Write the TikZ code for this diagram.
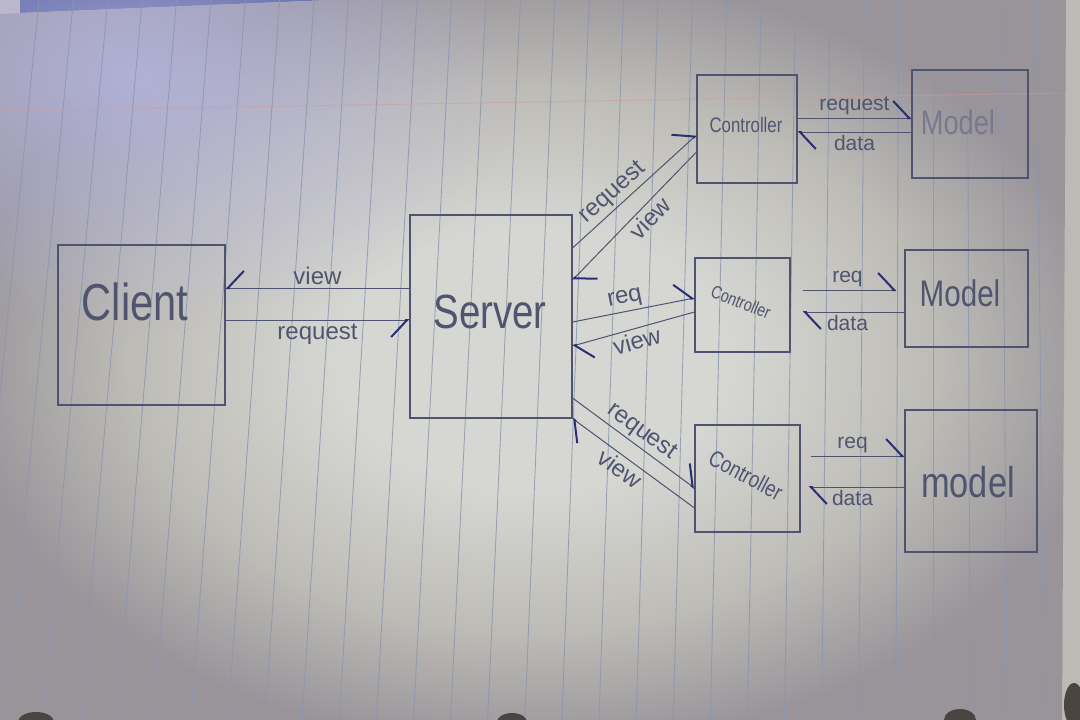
\documentclass[tikz,border=0pt]{standalone}
\usepackage{fontspec}
\setmainfont{Liberation Sans}
\newfontfamily\handbig{Liberation Sans}[FakeStretch=0.8]
\usetikzlibrary{arrows.meta,fadings}

\definecolor{paperhi}{HTML}{D6D7D3}
\definecolor{papermid}{HTML}{BDBBB6}
\definecolor{paperlo}{HTML}{98949A}
\definecolor{lavender}{HTML}{B7B8E6}
\definecolor{ruling}{HTML}{8A96AE}
\definecolor{marginred}{HTML}{CF9C9A}
\definecolor{pencil}{HTML}{4E536F}
\definecolor{inkdark}{HTML}{2C2D72}
\definecolor{scrawl}{HTML}{50556F}
\definecolor{faded}{HTML}{767A8C}
\definecolor{desk}{HTML}{3F4C8C}
\definecolor{edgegrey}{HTML}{BDB9B4}
\definecolor{ringgrey}{HTML}{4A4541}

% soft light falling on the sheet
\pgfdeclareradialshading{sheetlight}{\pgfpoint{0bp}{0bp}}{%
  color(0bp)=(paperhi); color(9bp)=(paperhi); color(19bp)=(papermid);
  color(27bp)=(paperlo); color(50bp)=(paperlo)}
\tikzfading[name=glow, inner color=transparent!0, outer color=transparent!100]

\begin{document}
\begin{tikzpicture}[x=1pt, y=-1pt,
  box/.style={draw=pencil, line width=1.1pt, inner sep=0pt},
  link/.style={draw=pencil, line width=1pt},
  tipL/.style={-{Straight Barb[harpoon, length=16pt, width=34pt, line width=2pt, color=inkdark]}},
  tipR/.style={-{Straight Barb[harpoon, swap, length=16pt, width=34pt, line width=2pt, color=inkdark]}},
  lbl/.style={text=scrawl, font=\fontsize{24}{26}\selectfont, inner sep=3pt},
  slbl/.style={text=scrawl, font=\fontsize{21}{23}\selectfont, inner sep=3pt},
  word/.style={text=scrawl, font=\handbig\fontsize{#1}{#1}\selectfont, inner sep=0pt},
]
\useasboundingbox (0,0) rectangle (1080,720);

% desk, paper sheet and its ruling
\fill[edgegrey] (0,0) rectangle (1080,720);
\fill[desk] (20,0) -- (330,0) -- (20,13) -- cycle;
\shade[shading=sheetlight]
  (0,14) -- (20,13) -- (330,0) -- (1066,0) -- (1062,720) -- (0,720) -- cycle;
\fill[lavender, path fading=glow, opacity=0.8] (-250,-180) rectangle (520,330);
\foreach \k in {-3,...,26}
  \draw[ruling, line width=0.9pt, opacity=0.8] ({933-34.386*\k},0) -- ({933-37.114*\k},720);
\draw[marginred, line width=1pt, opacity=0.5] (0,111) -- (1062,93);

% binder rings peeking in at the bottom edge
\fill[ringgrey] (36,722) ellipse (18pt and 10pt);
\fill[ringgrey] (512,722) ellipse (15pt and 9pt);
\fill[ringgrey] (960,720) ellipse (16pt and 11pt);
\fill[ringgrey] (1074,705) ellipse (10pt and 22pt);

% boxes
\node[box, minimum width=167pt, minimum height=160pt] (client) at (141.5,325) {};
\node[box, minimum width=162pt, minimum height=203pt] (server) at (491,316.5) {};
\node[box, minimum width=100pt, minimum height=108pt] (c1) at (747,129) {};
\node[box, minimum width=116pt, minimum height=108pt] (m1) at (970,124) {};
\node[box, minimum width=95pt,  minimum height=94pt]  (c2) at (742.5,305) {};
\node[box, minimum width=123pt, minimum height=97pt]  (m2) at (966.5,298.5) {};
\node[box, minimum width=105pt, minimum height=107pt] (c3) at (747.5,478.5) {};
\node[box, minimum width=132pt, minimum height=142pt] (m3) at (971,481) {};

% box titles
\node[word=52] (clientname) at (135,302) {Client};
\node[word=48] (servername) at (490,312) {Server};
\node[word=21] (c1name) at (746,125) {Controller};
\node[word=18, rotate=-22] (c2name) at (741,302) {Controller};
\node[word=23, rotate=-28] (c3name) at (746,475) {Controller};
\node[word=34, text=faded] (m1name) at (958,122) {Model};
\node[word=37] (m2name) at (960,293) {Model};
\node[word=43] (m3name) at (968,482) {model};

% client <-> server
\coordinate (sw1) at ([yshift=28.5pt]server.west);
\coordinate (sw2) at ([yshift=-3.5pt]server.west);
\draw[link, tipR] (sw1) -- (sw1 -| client.east) node[lbl, midway, above] (lv) {view};
\draw[link, tipR] (sw2 -| client.east) -- (sw2) node[lbl, midway, below] (lr) {request};

% server <-> controllers
\draw[link, tipL] ([yshift=68.5pt]server.east) -- ([yshift=-6pt]c1.west)
  node[lbl, pos=0.4, above, sloped] (lr1) {request};
\draw[link, tipL] ([yshift=-23pt]c1.west) -- ([yshift=36.5pt]server.east)
  node[lbl, pos=0.45, below, sloped] (lv1) {view};
\draw[link, tipL] ([yshift=-5.5pt]server.east) -- ([yshift=7pt]c2.west)
  node[lbl, pos=0.45, above, sloped] (lr2) {req};
\draw[link, tipL] ([yshift=-7pt]c2.west) -- ([yshift=-29.5pt]server.east)
  node[lbl, pos=0.5, below, sloped] (lv2) {view};
\draw[link, tipL] ([yshift=-81.5pt]server.east) -- ([yshift=-9.5pt]c3.west)
  node[lbl, pos=0.5, above, sloped] (lr3) {request};
\draw[link, tipL] ([yshift=-29.5pt]c3.west) -- (server.south east)
  node[lbl, pos=0.55, below, sloped] (lv3) {view};

% controllers <-> models
\coordinate (ce1) at ([yshift=11pt]c1.east);
\coordinate (ce2) at ([yshift=-3pt]c1.east);
\draw[link, tipL] (ce1) -- (ce1 -| m1.west) node[slbl, midway, above] (q1) {request};
\draw[link, tipL] (ce2 -| m1.west) -- (ce2) node[slbl, midway, below] (d1) {data};

\coordinate (ce3) at ([yshift=15pt]c2.east);
\coordinate (ce4) at ([yshift=-7pt]c2.east);
\draw[link, tipL, shorten <=12pt, shorten >=8pt] (ce3) -- (ce3 -| m2.west)
  node[slbl, midway, above] (q2) {req};
\draw[link, tipL, shorten >=12pt] (ce4 -| m2.west) -- (ce4)
  node[slbl, midway, below] (d2) {data};

\coordinate (ce5) at ([yshift=22.5pt]c3.east);
\coordinate (ce6) at ([yshift=-8.5pt]c3.east);
\draw[link, tipL, shorten <=10pt] (ce5) -- (ce5 -| m3.west)
  node[slbl, midway, above] (q3) {req};
\draw[link, tipL, shorten >=8pt] (ce6 -| m3.west) -- (ce6)
  node[slbl, midway, below] (d3) {data};
\end{tikzpicture}
\end{document}
